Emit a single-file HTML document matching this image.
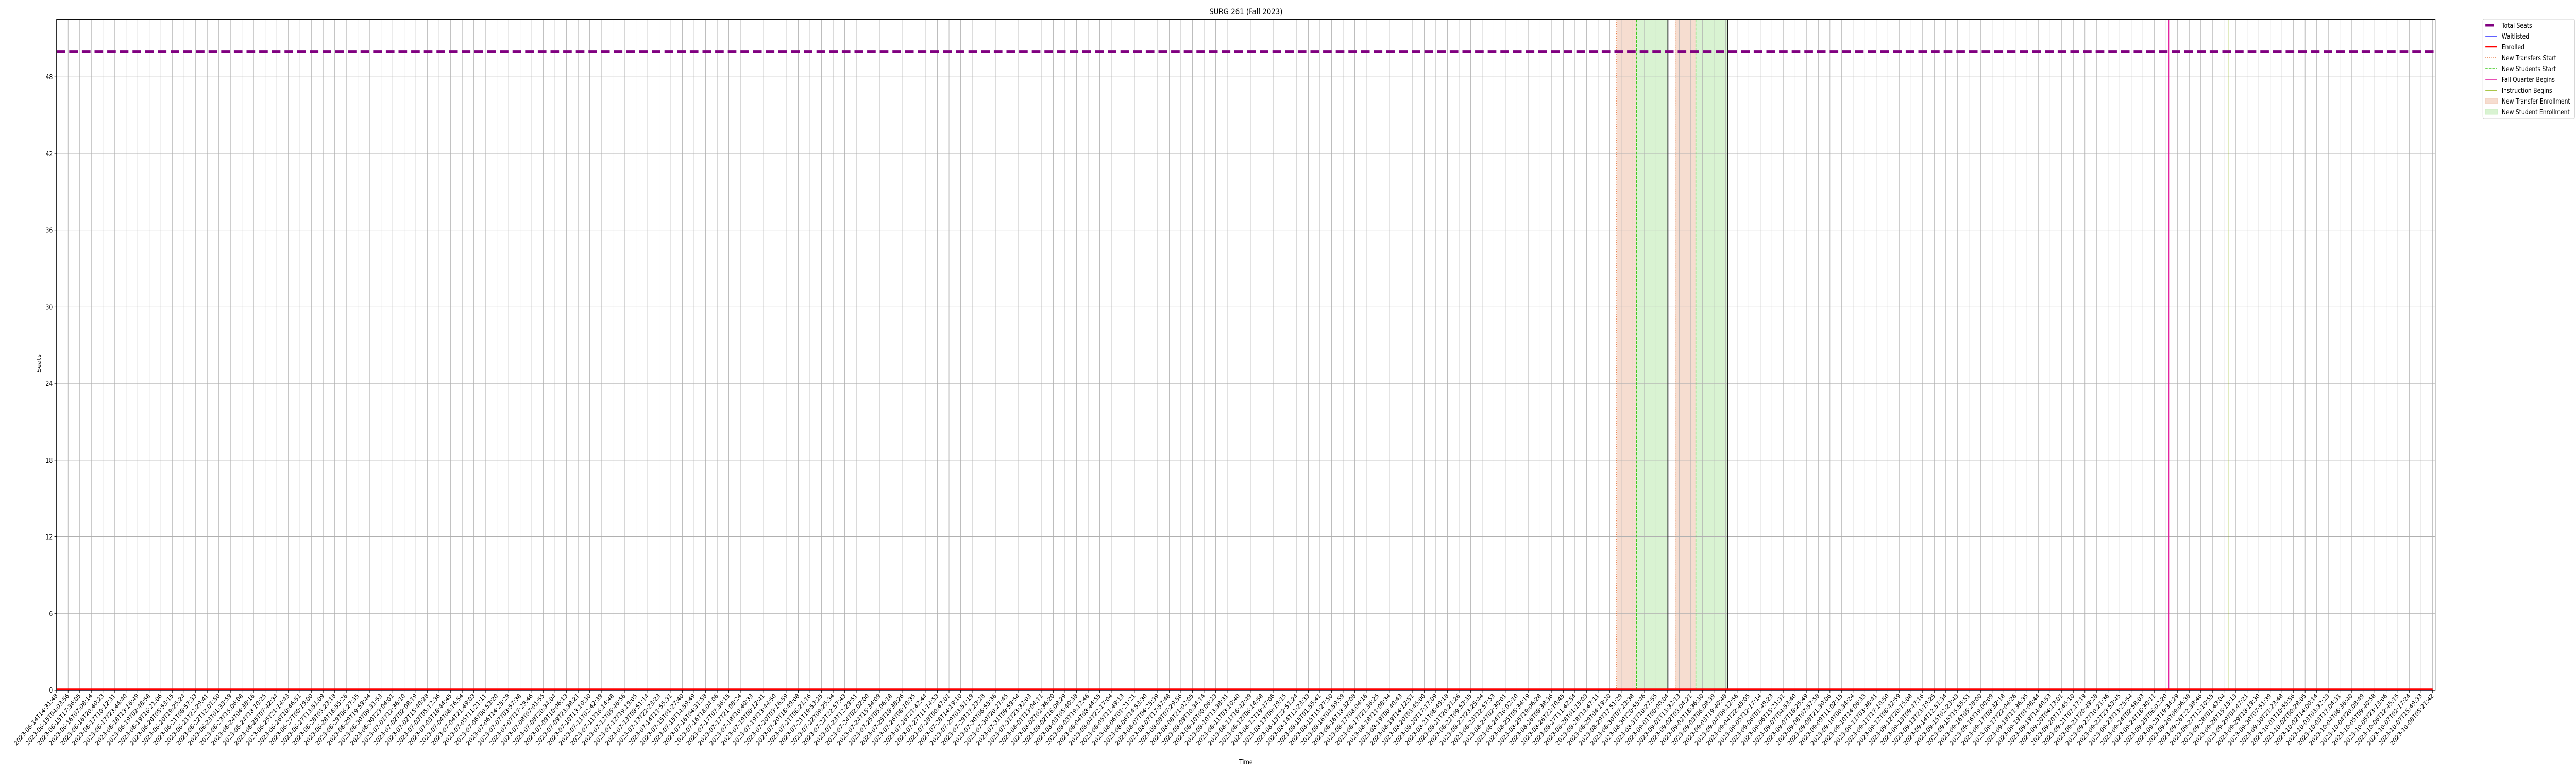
<!DOCTYPE html>
<html><head><meta charset="utf-8"><style>
html,body{margin:0;padding:0;background:#fff;width:100%;height:100%;overflow:hidden;}
svg{display:block;font-family:"DejaVu Sans","Liberation Sans",sans-serif;overflow:hidden;width:100vw;height:100vh;}
</style></head><body>
<svg id="chart" viewBox="0 0 6000 1500" preserveAspectRatio="none" xmlns="http://www.w3.org/2000/svg">
<rect width="6000" height="1500" fill="#fff"/>
<g id="shades"></g>
<g id="grid"></g>
<g id="events"></g>
<g id="series"></g>
<g id="axes"></g>
<text x="2902" y="28" font-size="16" text-anchor="middle">SURG 261 (Fall 2023)</text>
<text x="2902" y="1483" font-size="13" text-anchor="middle">Time</text>
<text transform="translate(95,705) rotate(-90)" font-size="13" text-anchor="middle">Seats</text>
<g>
<rect x="5783" y="37" width="214" height="193" rx="3" fill="#fff" stroke="#d0d0d0"/>
<g><line x1="5789" y1="49" x2="5809" y2="49" stroke="purple" stroke-width="5"/><text x="5827" y="54" font-size="13">Total Seats</text></g>
<g><line x1="5789" y1="70" x2="5816" y2="70" stroke="blue" stroke-width="1.2"/><text x="5827" y="75" font-size="13">Waitlisted</text></g>
<g><line x1="5789" y1="91" x2="5816" y2="91" stroke="red" stroke-width="2.5"/><text x="5827" y="96" font-size="13">Enrolled</text></g>
<g><line x1="5789" y1="112" x2="5816" y2="112" stroke="#e8743b" stroke-width="1.5" stroke-dasharray="1.5 3"/><text x="5827" y="117" font-size="13">New Transfers Start</text></g>
<g><line x1="5789" y1="133" x2="5816" y2="133" stroke="#3dc91e" stroke-width="1.5" stroke-dasharray="5.5 2.5"/><text x="5827" y="138" font-size="13">New Students Start</text></g>
<g><line x1="5789" y1="154" x2="5816" y2="154" stroke="#e0179c" stroke-width="1.5"/><text x="5827" y="159" font-size="13">Fall Quarter Begins</text></g>
<g><line x1="5789" y1="175" x2="5816" y2="175" stroke="#8db40b" stroke-width="1.5"/><text x="5827" y="180" font-size="13">Instruction Begins</text></g>
<g><rect x="5789" y="191" width="28" height="10" fill="#f6ddd0" stroke="#f3cfbe"/><text x="5827" y="201" font-size="13">New Transfer Enrollment</text></g>
<g><rect x="5789" y="212" width="28" height="10" fill="#d9f3d2" stroke="#ccefc3"/><text x="5827" y="222" font-size="13">New Student Enrollment</text></g>
</g>
</svg>
<script>
const startTime = "2023-06-14T14:31:48";
const endTime = "2023-10-08T05:21:42";
const tickCount = 206;
const totalSeats = 50;
const enrolledValue = 0;
const waitlistedValue = 0;
const yTicks = [0, 6, 12, 18, 24, 30, 36, 42, 48];
const transferStarts = ["2023-08-29T12:20:00", "2023-09-01T08:55:00"];
const studentStarts = ["2023-08-30T11:37:00", "2023-09-02T08:55:00"];
const enrollmentEnds = ["2023-09-01T00:20:00", "2023-09-03T21:55:00"];
const fallQuarterBegins = "2023-09-25T09:19:00";
const instructionBegins = "2023-09-28T07:31:00";

const NS = "http://www.w3.org/2000/svg";
const L = 131.7, R = 5672, T = 37.7, B = 1339;
const yMax = 52.5;
const t0 = Date.parse(startTime + "Z"), tEnd = Date.parse(endTime + "Z");
const pxPerMs = (5666 - L) / (tEnd - t0);
function xs(t) { return L + (Date.parse(t + "Z") - t0) * pxPerMs; }
function xms(ms) { return L + (ms - t0) * pxPerMs; }
function ys(v) { return B - v / yMax * (B - T); }
function mk(tag, attrs, parent) { const e = document.createElementNS(NS, tag); for (const k in attrs) e.setAttribute(k, attrs[k]); parent.appendChild(e); return e; }
const pad = n => String(n).padStart(2, "0");
function fmt(ms) { const d = new Date(ms); return d.getUTCFullYear() + "-" + pad(d.getUTCMonth() + 1) + "-" + pad(d.getUTCDate()) + "T" + pad(d.getUTCHours()) + ":" + pad(d.getUTCMinutes()) + ":" + pad(d.getUTCSeconds()); }

const timestamps = [];
for (let i = 0; i < tickCount; i++) timestamps.push(t0 + (tEnd - t0) * i / (tickCount - 1));
const enrolled = timestamps.map(() => enrolledValue);
const waitlisted = timestamps.map(() => waitlistedValue);

const shades = document.getElementById("shades"), grid = document.getElementById("grid"),
  ev = document.getElementById("events"), ser = document.getElementById("series"), ax = document.getElementById("axes");

for (let i = 0; i < transferStarts.length; i++) {
  const a = xs(transferStarts[i]), b = xs(studentStarts[i]), c = xs(enrollmentEnds[i]);
  let r = mk("rect", { x: a, y: T, width: b - a, height: B - T, fill: "#f6ddd0" }, shades);
  
  
  r = mk("rect", { x: b, y: T, width: c - b, height: B - T, fill: "#d9f3d2" }, shades);
  
  
}
timestamps.forEach(ms => {
  const x = xms(ms);
  const g = mk("line", { x1: x, y1: T, x2: x, y2: B, stroke: "#b0b0b0", "stroke-width": 1 }, grid);
  
  
  const tk = mk("line", { x1: x, y1: B, x2: x, y2: B + 5, stroke: "#000", "stroke-width": 1 }, ax);
  
  
  const tx = mk("text", { transform: "translate(" + (x + 3) + "," + (B + 12) + ") rotate(-45)", "text-anchor": "end", "font-size": 12.5 }, ax);
  tx.textContent = fmt(ms);
  
  
});
yTicks.forEach(v => {
  const y = ys(v);
  const g = mk("line", { x1: L, y1: y, x2: R, y2: y, stroke: "#b0b0b0", "stroke-width": 1 }, grid);
  
  
  const tk = mk("line", { x1: L - 5, y1: y, x2: L, y2: y, stroke: "#000" }, ax);
  
  
  const tx = mk("text", { x: L - 9, y: y + 5, "text-anchor": "end", "font-size": 13 }, ax);
  tx.textContent = v;
  
  
});
for (let i = 0; i < transferStarts.length; i++) {
  let l = mk("line", { x1: xs(transferStarts[i]), y1: T, x2: xs(transferStarts[i]), y2: B, stroke: "#e8743b", "stroke-width": 1.5, "stroke-dasharray": "1.5 3" }, ev);
  
  
  l = mk("line", { x1: xs(studentStarts[i]), y1: T, x2: xs(studentStarts[i]), y2: B, stroke: "#3dc91e", "stroke-width": 1.5, "stroke-dasharray": "5.5 2.5" }, ev);
  
  
  l = mk("line", { x1: xs(enrollmentEnds[i]), y1: T, x2: xs(enrollmentEnds[i]), y2: B, stroke: "#000", "stroke-width": 2 }, ev);
  
  
}
let fq = mk("line", { x1: xs(fallQuarterBegins), y1: T, x2: xs(fallQuarterBegins), y2: B, stroke: "#e0179c", "stroke-width": 1.5 }, ev);


let ib = mk("line", { x1: xs(instructionBegins), y1: T, x2: xs(instructionBegins), y2: B, stroke: "#8db40b", "stroke-width": 1.5 }, ev);



const ts = mk("line", { x1: L, y1: ys(totalSeats), x2: R, y2: ys(totalSeats), stroke: "purple", "stroke-width": 5, "stroke-dasharray": "20 9.5" }, ser);


const wl = mk("polyline", { points: timestamps.map((ms, i) => xms(ms) + "," + ys(waitlisted[i])).join(" "), fill: "none", stroke: "blue", "stroke-width": 1.2 }, ser);


const en = mk("polyline", { points: timestamps.map((ms, i) => xms(ms) + "," + (ys(enrolled[i]) - 1.5)).join(" "), fill: "none", stroke: "red", "stroke-width": 2.5 }, ser);



const frame = mk("rect", { x: L, y: T, width: R - L, height: B - T, fill: "none", stroke: "#000", "stroke-width": 1.3 }, ax);


</script>
</body></html>
